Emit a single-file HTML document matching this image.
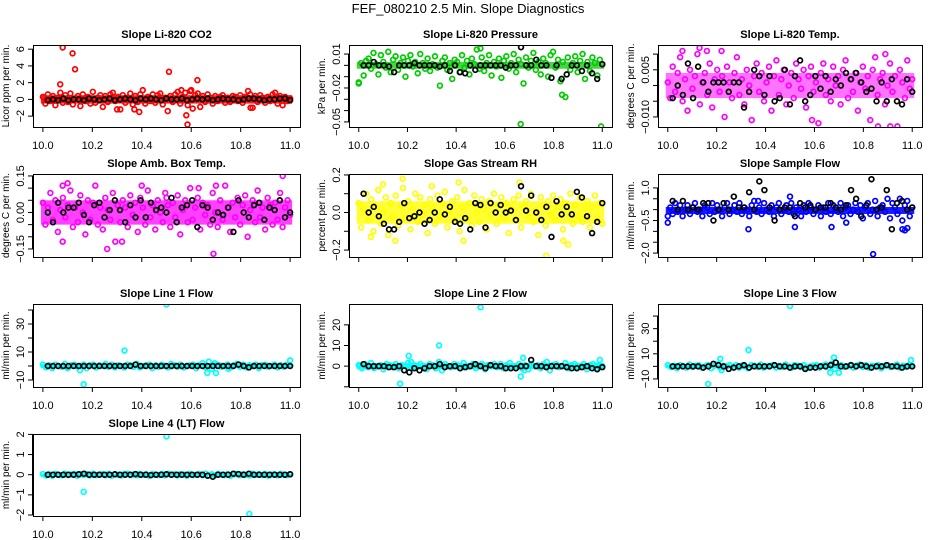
<!DOCTYPE html>
<html><head><meta charset="utf-8"><style>
html,body{margin:0;padding:0;background:#fff;}
svg{display:block;font-family:"Liberation Sans",Arial,sans-serif;}
</style></head><body>
<svg id="chart" width="936" height="540" viewBox="0 0 936 540">
<text x="468" y="13" text-anchor="middle" font-size="13">FEF_080210  2.5 Min. Slope Diagnostics</text>
</svg>
<script>
// ---- data ----
const xTickValues=[10.0,10.2,10.4,10.6,10.8,11.0];
const xTickLabels=["10.0","10.2","10.4","10.6","10.8","11.0"];

// dense-band envelopes (low / high) per panel, in data units
const envLo=[-0.5,-0.003,-0.004,-0.05,-0.06,-0.2,-1.5,-1.5,-1.5,-0.04];
const envHi=[0.5,0.003,0.004,0.05,0.06,0.12,1.5,1.5,1.5,0.04];

const co2Band=[0.3,-0.5,0.6,-0.2,0.4,-0.7,0.2,0.8,-0.4,0.5,-0.3,0.7,-0.6,0.1,0.4,-0.8,0.6,-0.2,0.3,-0.5,0.9,-0.4,0.2,0.5,-0.9,0.4,-0.3,0.6,0.8,-0.2,0.3,-1.2,0.5,-0.4,0.2,0.7,-0.6,0.4,-0.3,0.6,1.1,-0.5,0.3,-0.2,0.6,-0.4,0.5,0.7,-0.6,0.2,-1.4,0.4,-0.3,0.6,0.9,-0.5,0.3,0.8,-0.7,1.0,-1.1,0.5,0.7,-0.9,0.4,-0.3,0.6,0.2,-0.5,0.4,-0.2,0.3,0.5,-0.4,0.2,-0.3,0.4,0.3,-0.2,0.5,-0.4,0.3,0.2,0.6,-1.0,0.4,-0.3,0.5,0.2,-0.4,0.3,-0.2,0.6,0.8,-0.5,0.4,-0.7,0.3,-0.2,0.1];
const co2OutX=[10.08,10.12,10.13,10.07,10.51,10.625,10.58,10.585,10.37,10.39,10.56,10.6,10.84,10.83,10.3];
const co2OutY=[6.2,5.5,3.6,1.8,3.3,2.3,-1.9,-3.0,-1.2,-1.5,1.1,1.1,-1.0,1.0,-1.2];
const co2Black=[-0.1,0.0,-0.1,0.1,-0.1,0.0,0.0,-0.1,0.1,0.0,-0.1,0.0,0.1,-0.1,0.0,0.1,0.0,-0.1,0.1,0.0,0.1,0.0,-0.1,0.1,0.0,0.0,0.1,-0.1,0.0,0.1,0.0,0.1,-0.1,0.0,0.1,0.0,0.0,-0.1,0.0,0.1,0.1,0.0,-0.1,0.0,0.0,0.1,0.1,-0.1];

const presBand=[-.015,.002,-.009,.004,.006,-.003,.011,.001,-.008,.009,.003,-.002,.012,-.006,.005,.008,-.004,.002,.007,-.010,.004,.009,-.001,.003,-.007,.010,.002,-.003,.006,-.005,.001,.008,-.002,-.018,.004,.007,-.004,.002,-.012,.005,.003,-.006,.009,-.002,.004,-.008,.006,.001,.014,-.003,.007,-.005,.002,.009,-.009,.003,-.001,.006,-.011,.004,.008,-.003,.002,.010,-.006,.005,.001,-.016,.007,-.002,.004,.011,-.004,.003,-.008,.006,.002,-.010,.009,.012,-.002,.005,-.014,.003,-.028,.007,-.004,.002,.008,-.006,.004,.010,-.012,.003,-.005,.007,.002,-.009,.005,.001];
const presOutX=[10.33,10.665,10.995,10.835,10.5,10.0];
const presOutY=[-.058,-.052,-.054,-.026,.015,-.016];
const presBlack=[0,0,.003,0,0,-.001,-.006,0,0,0,.002,0,0,0,0,-.001,0,-.005,0,-.006,-.007,0,-.004,0,0,0,0,0,-.002,0,0,.016,0,0,.005,0,0,-.011,0,-.012,-.008,0,0,-.005,0,-.007,-.012,.001];

const tempBand=[.001,-.004,.006,-.002,.004,.009,-.005,.002,-.008,.005,-.001,.003,.010,-.006,.001,.004,-.003,.007,-.007,.002,.005,-.002,.003,-.010,.006,.001,-.004,.004,.009,-.003,.002,-.006,.005,.000,-.011,.003,.007,-.002,.004,-.005,.001,.006,-.008,.003,.008,-.003,.002,.005,-.006,.000,.004,-.004,.007,.002,-.001,.005,-.007,.003,.006,-.002,.001,-.012,.004,.007,-.003,.002,-.005,.006,.000,.003,-.006,.005,.008,-.004,.002,-.002,.004,-.008,.001,.006,-.001,.003,-.011,.005,.009,-.003,.002,.004,-.006,.000,.007,-.002,.003,-.013,.005,.001,-.004,.008,-.001,.002];
const tempOutX=[10.06,10.13,10.16,10.22,10.59,10.86,10.91,10.89];
const tempOutY=[.011,.012,.011,.011,-.011,-.013,-.013,.010];
const tempBlack=[-.004,.000,-.003,.007,-.004,.006,.001,-.002,.001,.001,.001,-.002,.001,.001,-.007,-.002,.005,.003,-.003,.003,-.005,-.004,.005,-.006,.003,.008,-.005,-.003,.003,-.001,.003,-.002,.002,.000,.004,.002,.004,.001,-.002,-.001,-.005,.001,-.005,.002,-.005,-.006,.002,-.002];

const boxBand=[.04,-.05,.02,.08,-.03,.05,-.08,.01,.06,-.02,.03,.09,-.06,.02,-.04,.07,.00,-.09,.05,-.03,.04,.11,-.05,.02,-.07,.06,.01,-.03,.08,-.12,.03,-.04,.05,.02,-.06,.07,-.01,.04,-.08,.06,.02,-.05,.09,-.02,.03,-.07,.05,.00,-.04,.08,.03,-.06,.04,-.02,.07,-.09,.01,.05,-.04,.10,-.03,.02,.06,-.07,.04,-.01,.03,-.05,.08,.00,-.06,.05,-.03,.11,.02,-.08,.04,-.02,.06,-.05,.03,.07,-.10,.01,.05,-.04,.09,-.02,.02,-.07,.06,.03,-.05,.04,-.03,.08,-.06,.02,.05,-.01];
const boxOutX=[10.08,10.1,10.08,10.26,10.32,10.4,10.63,10.7,10.69,10.97,10.5];
const boxOutY=[.11,.12,-.12,-.15,-.12,.11,.10,.11,-.17,.15,.06];
const boxBlack=[.00,-.04,.04,.00,.02,.02,.04,-.01,-.04,.03,.04,-.02,.01,.05,.01,-.04,.03,-.02,.05,-.02,.04,.01,.02,.00,.06,-.04,.02,.03,.05,-.06,.03,.02,-.03,.00,-.01,.02,-.08,.05,.00,-.02,.03,.04,-.03,.02,.01,.05,-.02,.00];

const rhBand=[.05,-.08,.02,.10,-.04,.07,-.10,.03,.12,-.06,.00,.08,-.12,.05,-.02,.09,-.07,.04,.13,-.03,.06,-.09,.02,.10,-.05,.08,-.01,.04,-.11,.07,.03,-.06,.09,-.02,.05,.11,-.08,.01,.06,-.04,.08,-.10,.03,.12,-.03,.05,-.07,.09,.00,-.05,.07,.02,-.09,.06,-.01,.10,-.06,.04,.08,-.03,.05,-.11,.02,.07,-.04,.09,-.08,.03,.06,-.02,.10,-.05,.01,-.12,.08,.04,-.07,.06,-.01,.09,-.04,.03,.07,-.09,.05,.00,.10,-.06,.04,-.02,.08,-.05,.02,.06,-.08,.03,.09,-.03,.05,-.06];
const rhOutX=[10.18,10.1,10.08,10.41,10.66,10.3,10.77,10.84,10.86,10.43,10.05,10.15];
const rhOutY=[.18,.15,.12,.16,.16,.14,-.23,-.15,-.17,-.15,-.13,-.15];
const rhBlack=[.10,.00,.03,-.02,-.06,-.09,-.09,-.05,.05,-.03,-.02,.00,-.06,-.04,.00,.07,-.01,.03,-.05,-.06,-.03,-.09,.05,.04,-.08,.05,.00,.04,.00,.01,-.04,.14,.01,.09,.00,-.04,.03,-.13,.06,-.01,.03,-.01,.11,.08,-.02,-.11,-.05,.05];

const flowBand=[-.3,.1,-.2,.3,-.1,.2,-.3,.0,.2,-.2,.1,.3,-.1,.0,-.3,.2,.1,-.2,.3,-.1,.2,.0,-.3,.1,.3,-.2,.0,.2,-.1,.3,-.2,.1,.0,-.3,.2,.4,-.1,.1,-.2,.3,.0,-.1,.2,-.3,.1,.3,-.2,.0,.2,-.1,.3,-.2,.1,.0,-.3,.2,-.1,.3,.1,-.2,.0,.2,-.3,.1,-.1,.3,-.2,.2,.0,-.1,.3,-.3,.1,.2,-.2,.0,.3,-.1,.2,-.4,.1,.3,-.2,.0,.4,-.3,.1,.2,-.1,.5,-.4,.3,.1,-.2,.5,-.5,.2,.4,-.3,.1];
const flowOutX=[10.0,10.33,10.5,10.52,10.67,10.73,10.84,10.96,10.98,10.97,10.37];
const flowOutY=[-.6,-.9,.6,-.8,-.8,-.6,-2.05,-.9,-.85,-.95,.4];
const flowBlack=[.4,.0,.4,.0,.1,.0,.3,.3,-.5,.0,.3,.0,.6,.1,.1,.8,.0,1.3,.9,.1,-.5,.0,.1,.1,-.3,.3,.1,.2,.0,.1,.1,.3,.1,.0,.2,.9,.5,-.3,.2,1.4,.0,.1,.9,-.9,.3,.4,.0,.1];

const line1Band=[1,-1,.5,-1.5,1,0,-.5,1.5,-1,.5,1,-.5,0,1,-1.5,.5,1,-1,.5,0,1.5,-.5,1,-1,.5,0,-1,1,.5,-.5,1.5,-1,0,.5,1,-1.5,.5,-.5,1,0,-1,1.5,.5,-.5,1,-1,0,.5,1,-1.5,.5,2,-1,3,-2,.5,1,-.5,0,1,-1,.5,1.5,-.5,1,-1,.5,0,1,-1.5,.5,1,-.5,0,1,-1,.5,-.5,1,0];
const line1OutX=[10.5,10.33,10.165,11.0,10.665,10.7,10.695,10.15,10.75,10.1];
const line1OutY=[44,11,-13,4,-5,-5,2,-3,-2,-1.5];
const line1Black=[0,0,0,0,0,0,0,0,0,0,0,0,0,0,0,0,0,1,0,0,0,0,0,0,0,0,0,0,0,0,0,0,0,0,0,0,0,1,0,-1,0,0,0,0,0,0,0,0];

const line2Band=[.5,-1,1,-.5,1.5,-1,0,.5,-1.5,1,.5,-.5,1,-1,.5,0,1.5,-1,.5,-.5,1,0,-1.5,1,.5,-1,2,-2,1,0,-.5,1,.5,-1,1.5,-.5,0,1,-1,.5,1,-1.5,.5,0,1,-.5,1,-1,.5,1.5,-.5,0,1,-1,.5,-1.5,1,0,.5,-1,1,2,-2,.5,1,-.5,0,1.5,-1,.5,1,-.5,0,1,-1.5,.5,1,-1,.5,0];
const line2OutX=[10.5,10.33,10.205,10.215,10.17,10.665,10.675,10.99,10.68];
const line2OutY=[28.5,10,5,2,-8.5,-5,4,3,-2];
const line2Black=[1,0,0,0,0,-.5,-.5,0,-2,-3,-1,-2,-1,0,0,1,-.5,0,0,-1,-.5,0,1,0,-1,.5,0,0,-1,-1,-1,0,0,3,0,0,-.5,0,0,0,-.5,-1,-1,-.5,0,-1,-1.5,-.5];

const line3Band=[1,-.5,.5,-1.5,1,0,-1,1.5,-.5,.5,1,-1,0,1,-1.5,.5,1.5,-1,.5,0,1,-.5,1,-1,.5,0,-1.5,1,.5,-.5,1.5,-1,0,.5,1,-1,.5,-.5,1.5,0,-1,1,.5,-.5,1,-1.5,0,.5,1,-1,.5,1.5,-1,2,-2,.5,1,-.5,0,1,-1,.5,1.5,-.5,1,-1,.5,0,1,-1.5,.5,1,-.5,0,1.5,-1,.5,-.5,1,0];
const line3OutX=[10.5,10.33,10.215,10.165,10.68,10.665,10.7,10.995,10.22];
const line3OutY=[48,13,6,-14,7,-5,-5,5,-3];
const line3Black=[0,0,0,0,0,0,-1,0,2,1,0,-2,-1,0,1,-1,0,0,0,0,1,0,0,-1,0,0,-2,-1,-1,0,0,1,3,0,0,1,0,1,0,-1,0,0,1,0,0,-1,0,0];

const line4Band=[.03,-.04,.02,-.05,.04,.00,-.03,.05,-.02,.01,.04,-.05,.02,-.01,.03,-.04,.05,-.02,.01,.03,-.03,.04,-.05,.02,.00,-.04,.03,.05,-.02,.01,-.03,.04,-.01,.02,-.05,.03,.00,-.02,.04,-.03,.05,-.01,.02,-.04,.03,.01,-.05,.04,-.02,.00,.03,-.03,.05,-.01,.02,-.04,.04,.00,-.02,.03,-.05,.01,.04,-.03,.02,.00,-.04,.05,-.01,.03,-.02,.04,-.05,.01,.02,-.03,.04,.00,-.02,.03];
const line4OutX=[10.5,10.165,10.835];
const line4OutY=[1.9,-.85,-1.95];
const line4Black=[0,0,0,0,0,0,.02,.05,0,0,0,0,0,.02,0,0,0,.03,0,0,-.02,0,0,.02,0,0,0,0,0,0,0,-.05,-.1,0,0,0,.05,.03,0,.05,0,0,0,0,0,0,0,.02];

// ---- layout ----
const colL=[33,349,658], colR=[300,612,922];
const rowT=[45,174,304,434], rowB=[127,257,387,516];
const NS="http://www.w3.org/2000/svg";
const svg=document.getElementById('chart');
function mk(tag,attrs,parent){const e=document.createElementNS(NS,tag);for(const k in attrs)e.setAttribute(k,attrs[k]);(parent||svg).appendChild(e);return e;}

const panels=[
 {t:"Slope Li-820 CO2",yl:"Licor ppm per min.",c:"#ff0000",band:co2Band,ox:co2OutX,oy:co2OutY,blk:co2Black,dom:[-3.3,6.5],ticks:[-2,0,2,4,6],labs:["−2","0","2","4","6"],labAt:[-2,0,2,4,6],r:0,col:0,xl:true,eo:0.9},
 {t:"Slope Li-820 Pressure",yl:"kPa per min.",c:"#00cc00",band:presBand,ox:presOutX,oy:presOutY,blk:presBlack,dom:[-.0545,.018],ticks:[.01,0,-.01,-.02,-.03,-.04,-.05],labs:["0.01","−0.02","−0.05"],labAt:[.01,-.02,-.05],r:0,col:1,xl:true,eo:0.75},
 {t:"Slope Li-820 Temp.",yl:"degrees C per min.",c:"#ff00ff",band:tempBand,ox:tempOutX,oy:tempOutY,blk:tempBlack,dom:[-.0132,.0129],ticks:[.01,.005,0,-.005,-.01],labs:["0.005","−0.010"],labAt:[.005,-.01],r:0,col:2,xl:true,eo:0.55},
 {t:"Slope Amb. Box Temp.",yl:"degrees C per min.",c:"#ff00ff",band:boxBand,ox:boxOutX,oy:boxOutY,blk:boxBlack,dom:[-.183,.158],ticks:[.15,.1,.05,0,-.05,-.1,-.15],labs:["0.15","0.00","−0.15"],labAt:[.15,0,-.15],r:1,col:0,xl:false,eo:0.75},
 {t:"Slope Gas Stream RH",yl:"percent per min.",c:"#ffff00",band:rhBand,ox:rhOutX,oy:rhOutY,blk:rhBlack,dom:[-.237,.205],ticks:[.2,.1,0,-.1,-.2],labs:["0.2","0.0","−0.2"],labAt:[.2,0,-.2],r:1,col:1,xl:false,eo:0.8},
 {t:"Slope Sample Flow",yl:"ml/min per min.",c:"#0000ff",band:flowBand,ox:flowOutX,oy:flowOutY,blk:flowBlack,dom:[-2.18,1.64],ticks:[1,.5,0,-.5,-1,-1.5,-2],labs:["1.0","−0.5","−2.0"],labAt:[1,-.5,-2],r:1,col:2,xl:false,eo:0.9},
 {t:"Slope Line 1 Flow",yl:"ml/min per min.",c:"#00ffff",band:line1Band,ox:line1OutX,oy:line1OutY,blk:line1Black,dom:[-15,44.3],ticks:[40,30,20,10,0,-10],labs:["30","10","−10"],labAt:[30,10,-10],r:2,col:0,xl:true,eo:0.9},
 {t:"Slope Line 2 Flow",yl:"ml/min per min.",c:"#00ffff",band:line2Band,ox:line2OutX,oy:line2OutY,blk:line2Black,dom:[-10.1,30.1],ticks:[20,10,0,-10],labs:["20","10","0"],labAt:[20,10,0],r:2,col:1,xl:true,eo:0.9},
 {t:"Slope Line 3 Flow",yl:"ml/min per min.",c:"#00ffff",band:line3Band,ox:line3OutX,oy:line3OutY,blk:line3Black,dom:[-16.4,49.6],ticks:[40,30,20,10,0,-10],labs:["30","10","−10"],labAt:[30,10,-10],r:2,col:2,xl:true,eo:0.9},
 {t:"Slope Line 4 (LT) Flow",yl:"ml/min per min.",c:"#00ffff",band:line4Band,ox:line4OutX,oy:line4OutY,blk:line4Black,dom:[-2.05,2.02],ticks:[2,1,0,-1,-2],labs:["2","1","0","−1","−2"],labAt:[2,1,0,-1,-2],r:3,col:0,xl:true,eo:0.9}
];

panels.forEach((p,pi)=>{
  const L=colL[p.col],R=colR[p.col],T=rowT[p.r],B=rowB[p.r];
  const g=mk('g',{});
  
  
  const xs=v=>L+(v-9.96)/(1.08)*(R-L);
  const ys=v=>B-(v-p.dom[0])/(p.dom[1]-p.dom[0])*(B-T);
  const clip=mk('clipPath',{id:'cp'+pi},g);
  mk('rect',{x:L,y:T,width:R-L,height:B-T},clip);
  const pts=mk('g',{'clip-path':'url(#cp'+pi+')'},g);
  
  
  const env=mk('rect',{x:xs(10)-2,y:ys(envHi[pi]),width:xs(11)-xs(10)+4,height:ys(envLo[pi])-ys(envHi[pi]),fill:p.c,opacity:p.eo},pts);
  
  
  const n=p.band.length;
  p.band.forEach((v,i)=>{
    const c=mk('circle',{cx:xs(10+i/(n-1)),cy:ys(v),r:2.4,fill:'none',stroke:p.c,'stroke-width':1.7},pts);
    
    
  });
  p.ox.forEach((x,i)=>{
    const c=mk('circle',{cx:xs(x),cy:ys(p.oy[i]),r:2.4,fill:'none',stroke:p.c,'stroke-width':1.7},pts);
    
    
  });
  const m=p.blk.length;
  p.blk.forEach((v,i)=>{
    const c=mk('circle',{cx:xs(10.02+0.98*i/(m-1)),cy:ys(v),r:2.4,fill:'none',stroke:'#000','stroke-width':1.7},pts);
    
    
  });
  const box=mk('rect',{x:L+0.5,y:T+0.5,width:R-L,height:B-T,fill:'none',stroke:'#000','stroke-width':1},g);
  
  
  const tt=mk('text',{x:(L+R)/2,y:T-7,'text-anchor':'middle','font-size':11,'font-weight':'bold'},g);
  tt.textContent=p.t;
  
  
  const x0=xs(xTickValues[0]),x1=xs(xTickValues[xTickValues.length-1]);
  mk('line',{x1:x0,x2:x1,y1:B+0.5,y2:B+0.5,stroke:'#000'},g);
  xTickValues.forEach((v,i)=>{
    mk('line',{x1:xs(v),x2:xs(v),y1:B,y2:B+5,stroke:'#000'},g);
    if(p.xl){
      const t=mk('text',{x:xs(v),y:B+22,'text-anchor':'middle','font-size':11},g);
      t.textContent=xTickLabels[i];
      
      
    }
  });
  const yv=p.ticks;
  const ya=Math.min(...yv.map(ys)),yb=Math.max(...yv.map(ys));
  mk('line',{x1:L-0.5,x2:L-0.5,y1:ya,y2:yb,stroke:'#000'},g);
  yv.forEach(v=>mk('line',{x1:L-5,x2:L,y1:ys(v),y2:ys(v),stroke:'#000'},g));
  p.labAt.forEach((v,i)=>{
    const t=mk('text',{x:0,y:0,'text-anchor':'middle','font-size':11,transform:'translate('+(L-9)+','+ys(v)+') rotate(-90)'},g);
    t.textContent=p.labs[i];
    
    
  });
  const yl=mk('text',{x:0,y:0,'text-anchor':'middle','font-size':10,transform:'translate('+(L-24)+','+((T+B)/2)+') rotate(-90)'},g);
  yl.textContent=p.yl;
  
  
});
</script>
</body></html>
